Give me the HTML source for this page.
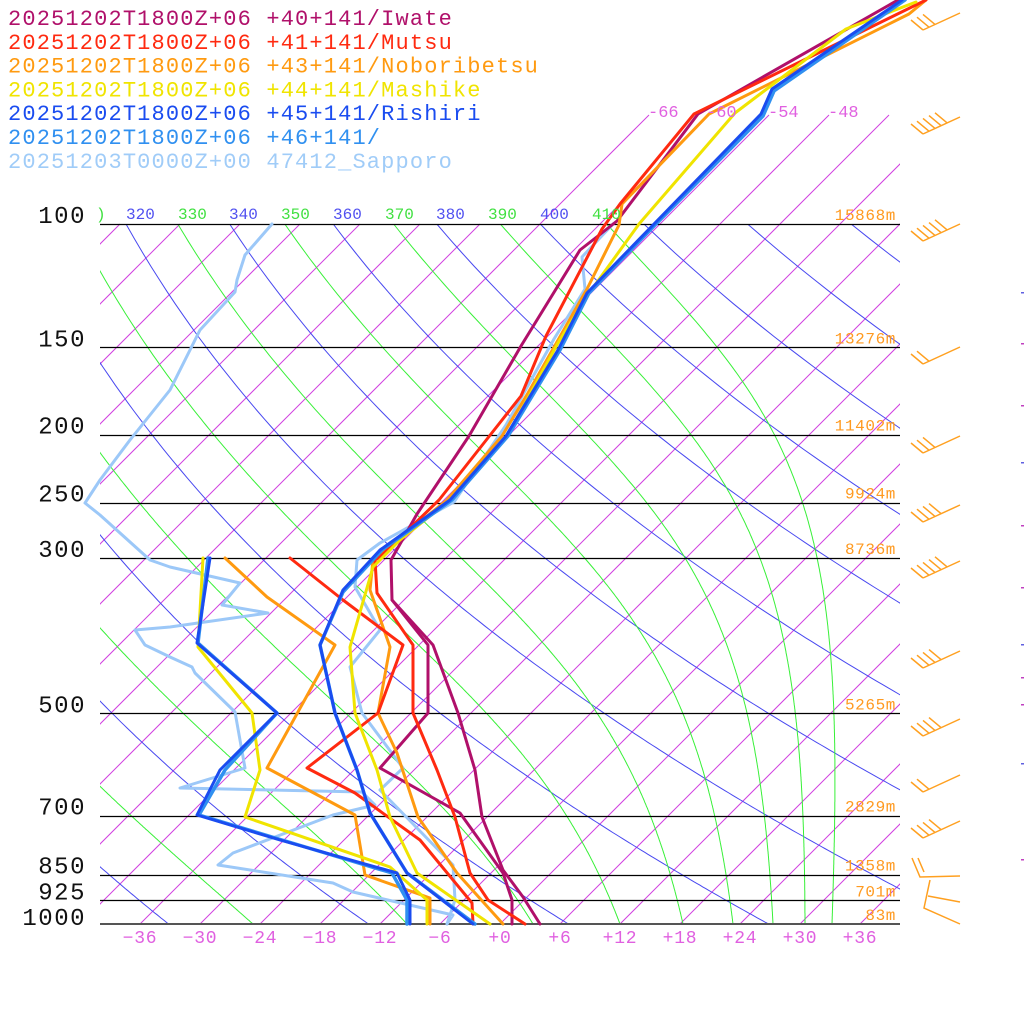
<!DOCTYPE html>
<html><head><meta charset="utf-8"><style>
html,body{margin:0;padding:0;background:#fff;width:1024px;height:1024px;overflow:hidden}
svg{display:block}
.m{font-family:"Liberation Mono",monospace}
</style></head><body>
<svg id="s" width="1024" height="1024" xmlns="http://www.w3.org/2000/svg">
<defs>
<clipPath id="cA"><rect x="100" y="224" width="800" height="700"/></clipPath>
<clipPath id="cI"><rect x="100" y="0" width="800" height="924"/></clipPath>
</defs>
<g id="grid"></g>
<g id="data" fill="none" stroke-linejoin="round" stroke-linecap="round"></g>
<g id="txt"></g>
</svg>
<script>
var NS="http://www.w3.org/2000/svg";
function el(p,t,a,txt){var e=document.createElementNS(NS,t);for(var k in a)e.setAttribute(k,a[k]);if(txt!==undefined)e.textContent=txt;p.appendChild(e);return e;}
function Y(p){return 924-304*Math.log(1000/p);}
function X(T,p){return 500+10*T+(924-Y(p));}
var G=document.getElementById('grid'),D=document.getElementById('data'),TX=document.getElementById('txt');
var gi=el(G,'g',{'clip-path':'url(#cI)',stroke:'#d040e0','stroke-width':1});
for(var T=-180;T<=40;T+=6){
  var yt=T>=-66?115:224;
  el(gi,'line',{x1:500+10*T,y1:924,x2:500+10*T+(924-yt),y2:yt});
}
var ga=el(G,'g',{'clip-path':'url(#cA)',fill:'none'});
for(var th=160;th<=520;th+=20){
  var pts=[];for(var p=1000;p>=95;p-=5){var t=th*Math.pow(p/1000,0.2857)-273.15;pts.push(X(t,p).toFixed(1)+','+Y(p).toFixed(1));}
  el(ga,'polyline',{points:pts.join(' '),stroke:'#4848f0','stroke-width':1});
}
function es(tc){return 6.112*Math.exp(17.67*tc/(tc+243.5));}
var starts=[-80,-60,-42,-24.7,-9.3,3.3,12,18.3,23.3,27.3,30.5,33.2];
starts.forEach(function(t0){
  var Tk=t0+273.15,p=1000,pts=[];
  while(p>90){
    pts.push(X(Tk-273.15,p).toFixed(1)+','+Y(p).toFixed(1));
    var dp=-2;var e=es(Tk-273.15);var rs=0.622*e/(p-e);
    var Rd=287,Lv=2.5e6,cp=1005;
    var dT=(1/p)*(Rd*Tk+Lv*rs)/(cp+Lv*Lv*rs*0.622/(Rd*Tk*Tk));
    Tk+=dT*dp;p+=dp;
  }
  el(ga,'polyline',{points:pts.join(' '),stroke:'#38f038','stroke-width':1});
});
[100,150,200,250,300,500,700,850,925].forEach(function(p){var y=Math.round(Y(p))+0.5;el(G,'line',{x1:100,y1:y,x2:900,y2:y,stroke:'#000','stroke-width':1.2});});
el(G,'line',{x1:100,y1:924,x2:900,y2:924,stroke:'#555','stroke-width':2});
[[126,'320','#5050f0'],[229,'340','#5050f0'],[333,'360','#5050f0'],[436,'380','#5050f0'],[540,'400','#5050f0'],
 [178,'330','#40e040'],[281,'350','#40e040'],[385,'370','#40e040'],[488,'390','#40e040'],[592,'410','#40e040']].forEach(function(a){
 el(TX,'text',{x:a[0],y:219,fill:a[2],'font-size':16,'class':'m'},a[1]);});
el(TX,'text',{x:96,y:219,fill:'#40e040','font-size':16,'class':'m'},')');
[[648,'-66'],[706,'-60'],[768,'-54'],[828,'-48']].forEach(function(a){el(TX,'text',{x:a[0],y:117,fill:'#e060e0','font-size':17,'class':'m'},a[1]);});
[[100,'100'],[150,'150'],[200,'200'],[250,'250'],[300,'300'],[500,'500'],[700,'700'],[850,'850'],[925,'925'],[1000,'1000']].forEach(function(a){
 el(TX,'text',{x:86,y:Y(a[0])+(a[0]==1000?1:-1),fill:'#111','font-size':24,'text-anchor':'end','class':'m','letter-spacing':1.5},a[1]);});
for(var t=-36;t<=36;t+=6){var s=t<0?String(t).replace('-','\u2212'):'+'+t;el(TX,'text',{x:500+10*t,y:943,fill:'#e060e0','font-size':18,'text-anchor':'middle','class':'m','letter-spacing':0.8},s);}
[[100,'15868m'],[150,'13276m'],[200,'11402m'],[250,'9924m'],[300,'8736m'],[500,'5265m'],[700,'2829m'],[850,'1358m'],[925,'701m'],[1000,'83m']].forEach(function(a){
 el(TX,'text',{x:896,y:Y(a[0])-4,fill:'#ff9a20','font-size':16,'text-anchor':'end','class':'m','letter-spacing':0.6},a[1]);});
[['#b0106a','20251202T1800Z+06 +40+141/Iwate'],['#ff2a10','20251202T1800Z+06 +41+141/Mutsu'],['#ff9a10','20251202T1800Z+06 +43+141/Noboribetsu'],
 ['#f0e400','20251202T1800Z+06 +44+141/Mashike'],['#1a4cf0','20251202T1800Z+06 +45+141/Rishiri'],['#3090f0','20251202T1800Z+06 +46+141/'],['#a0ccf8','20251203T0000Z+00 47412_Sapporo']].forEach(function(a,i){
 el(TX,'text',{x:8,y:25+i*23.8,fill:a[0],'font-size':22,'class':'m','letter-spacing':1.15},a[1]);});
function pl(c,w,pts){el(D,'polyline',{points:pts,stroke:c,'stroke-width':w});}
var SAP='#9cc8f8';
pl(SAP,3,'272,224 245,255 237,280 235,292 200,330 170,390 130,440 100,480 85,503 100,515 150,560 170,567 240,583 222,605 268,613 170,627 135,630 145,645 170,657 192,667 195,673 235,712 245,768 180,788 362,792 375,805 333,815 233,853 218,865 333,883 353,892 453,915 447,924');
pl(SAP,3,'613,224 582,257 585,289 554,339 506,425 454,502 380,543 357,560 355,587 380,630 350,667 362,713 403,768 380,790 453,865 455,900 447,924');
pl('#b0106a',3,'898,0 698,114 617,221 598,236 580,250 521,346 469,436 417,514 391,560 392,600 433,645 458,713 475,770 482,817 503,870 523,897 540,924');
pl('#b0106a',3,'392,600 428,645 428,713 380,768 460,813 503,873 512,900 512,924');
pl('#ff9a10',3,'926,0 909,14 709,114 622,204 619,225 587,289 528,393 502,436 447,500 380,554 373,560 370,590 390,647 378,713 397,753 418,817 457,873 503,924');
pl('#ff9a10',3,'225,558 267,597 335,645 267,768 355,815 365,875 430,898 430,924');
pl('#ff2a10',3,'926,0 694,114 620,204 602,229 546,336 521,396 491,434 439,500 380,557 375,560 377,593 413,645 413,713 437,770 455,817 470,873 488,900 525,924');
pl('#ff2a10',3,'290,558 343,600 403,645 378,713 307,768 355,793 420,840 472,903 473,924');
pl('#f0e400',3,'916,2 846,29 735,113 639,224 587,296 558,343 506,438 450,500 400,540 373,567 350,647 355,713 377,770 390,817 417,873 490,924');
pl('#f0e400',3,'203,558 198,647 252,713 260,770 245,817 390,867 427,900 427,924');
pl('#3090f0',3.5,'905,0 774,91 763,116 656,224 589,293 560,350 508,436 452,500 382,550 343,592 320,645 335,713 357,770 370,813 407,873 475,924');
pl('#3090f0',3.5,'208,558 198,643 277,713 225,770 199,815 282,840 392,873 407,900 407,924');
pl('#1a4cf0',3,'902,0 772,89 761,114 654,224 587,293 558,350 506,436 450,500 380,550 343,590 320,645 335,713 357,770 370,813 407,873 473,924');
pl('#1a4cf0',3,'210,558 197,643 277,713 220,770 197,815 280,840 397,873 410,900 410,924');
var gb=el(G,'g',{stroke:'#ffa020','stroke-width':1.5,fill:'none'});
[[30,3],[134,5],[241,5],[364,2],[453,3],[522,4],[578,5],[668,4],[736,4],[792,2],[838,4]].forEach(function(b){
  var y=b[0],x0=923,x1=960,y1=y-17;
  el(gb,'line',{x1:x0,y1:y,x2:x1,y2:y1});
  for(var i=0;i<b[1];i++){var fx=x0+i*6,fy=y-i*2.8;el(gb,'line',{x1:fx,y1:fy,x2:fx-12,y2:fy-10});}
});
el(gb,'polyline',{points:'912,858 920,877 960,876'});
el(gb,'polyline',{points:'918,858 924,872'});
el(gb,'polyline',{points:'930,880 924,908 960,924'});
el(gb,'polyline',{points:'928,896 960,902'});
[292,343,405,462,525,587,644,677,704,763,859].forEach(function(y,i){el(G,'rect',{x:1021,y:y,width:3,height:1.5,fill:i%3==0?'#6060e0':'#c040c0'});});
</script>
</body></html>
